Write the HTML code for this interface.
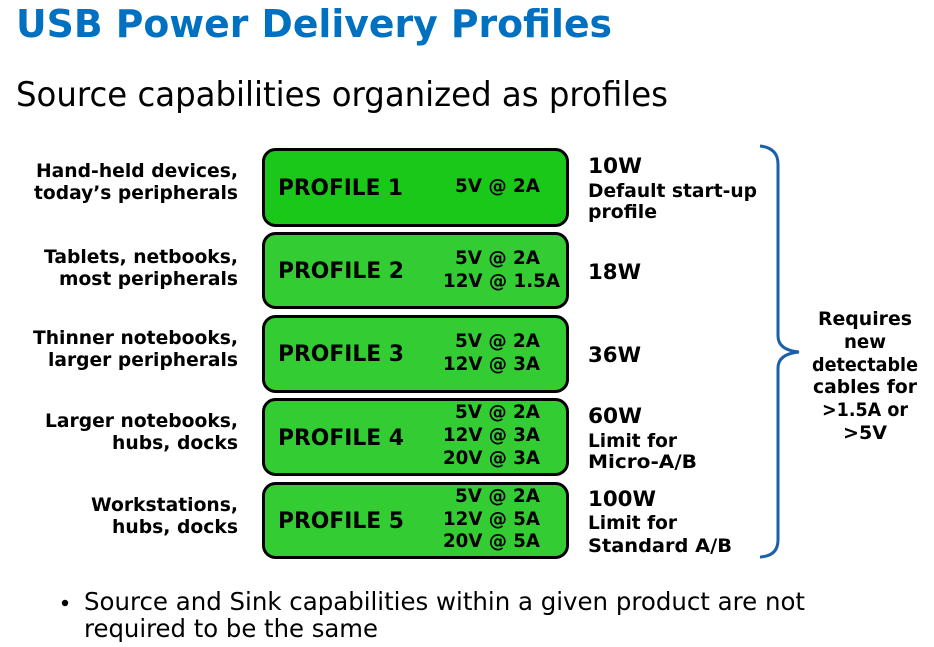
<!DOCTYPE html>
<html>
<head>
<meta charset="utf-8">
<style>
html,body{margin:0;padding:0;background:#fff;}
svg{display:block;}
text{font-family:"DejaVu Sans","Liberation Sans",sans-serif;}
.b{font-weight:bold;fill:#000;}
</style>
</head>
<body>
<svg width="934" height="647" viewBox="0 0 934 647" xmlns="http://www.w3.org/2000/svg">
<rect width="934" height="647" fill="#fff"/>
<!-- Title -->
<text x="16" y="37" font-size="38" font-weight="bold" fill="#0070c0" textLength="596" lengthAdjust="spacingAndGlyphs">USB Power Delivery Profiles</text>
<text x="16" y="106" font-size="34" fill="#000" textLength="652" lengthAdjust="spacingAndGlyphs">Source capabilities organized as profiles</text>

<!-- Boxes -->
<rect x="263.5" y="149.5" width="304" height="76" rx="12" fill="#1ac81a" stroke="#000" stroke-width="3"/>
<rect x="263.5" y="233.5" width="304" height="74" rx="12" fill="#33cc33" stroke="#000" stroke-width="3"/>
<rect x="263.5" y="316.5" width="304" height="75" rx="12" fill="#33cc33" stroke="#000" stroke-width="3"/>
<rect x="263.5" y="399.5" width="304" height="75" rx="12" fill="#33cc33" stroke="#000" stroke-width="3"/>
<rect x="263.5" y="483.5" width="304" height="74" rx="12" fill="#33cc33" stroke="#000" stroke-width="3"/>

<!-- Profile labels -->
<g font-size="22">
<text class="b" x="278" y="195" textLength="125" lengthAdjust="spacingAndGlyphs">PROFILE 1</text>
<text class="b" x="278" y="278" textLength="126" lengthAdjust="spacingAndGlyphs">PROFILE 2</text>
<text class="b" x="278" y="361" textLength="126" lengthAdjust="spacingAndGlyphs">PROFILE 3</text>
<text class="b" x="278" y="445" textLength="126" lengthAdjust="spacingAndGlyphs">PROFILE 4</text>
<text class="b" x="278" y="528" textLength="126" lengthAdjust="spacingAndGlyphs">PROFILE 5</text>
</g>

<!-- Voltages -->
<g font-size="19">
<text class="b" x="455" y="192" textLength="85" lengthAdjust="spacingAndGlyphs">5V @ 2A</text>
<text class="b" x="455" y="264" textLength="85" lengthAdjust="spacingAndGlyphs">5V @ 2A</text>
<text class="b" x="443" y="287" textLength="117" lengthAdjust="spacingAndGlyphs">12V @ 1.5A</text>
<text class="b" x="455" y="347" textLength="85" lengthAdjust="spacingAndGlyphs">5V @ 2A</text>
<text class="b" x="443" y="370" textLength="97" lengthAdjust="spacingAndGlyphs">12V @ 3A</text>
<text class="b" x="455" y="418" textLength="85" lengthAdjust="spacingAndGlyphs">5V @ 2A</text>
<text class="b" x="443" y="441" textLength="97" lengthAdjust="spacingAndGlyphs">12V @ 3A</text>
<text class="b" x="443" y="464" textLength="97" lengthAdjust="spacingAndGlyphs">20V @ 3A</text>
<text class="b" x="455" y="502" textLength="85" lengthAdjust="spacingAndGlyphs">5V @ 2A</text>
<text class="b" x="443" y="525" textLength="97" lengthAdjust="spacingAndGlyphs">12V @ 5A</text>
<text class="b" x="443" y="547" textLength="97" lengthAdjust="spacingAndGlyphs">20V @ 5A</text>
</g>

<!-- Left labels -->
<g font-size="19" text-anchor="end">
<text class="b" x="238" y="177" textLength="202" lengthAdjust="spacingAndGlyphs">Hand-held devices,</text>
<text class="b" x="238" y="199" textLength="204" lengthAdjust="spacingAndGlyphs">today’s peripherals</text>
<text class="b" x="238" y="263" textLength="194" lengthAdjust="spacingAndGlyphs">Tablets, netbooks,</text>
<text class="b" x="238" y="285" textLength="179" lengthAdjust="spacingAndGlyphs">most peripherals</text>
<text class="b" x="238" y="344" textLength="205" lengthAdjust="spacingAndGlyphs">Thinner notebooks,</text>
<text class="b" x="238" y="366" textLength="190" lengthAdjust="spacingAndGlyphs">larger peripherals</text>
<text class="b" x="238" y="427" textLength="193" lengthAdjust="spacingAndGlyphs">Larger notebooks,</text>
<text class="b" x="238" y="449" textLength="126" lengthAdjust="spacingAndGlyphs">hubs, docks</text>
<text class="b" x="238" y="511" textLength="147" lengthAdjust="spacingAndGlyphs">Workstations,</text>
<text class="b" x="238" y="533" textLength="126" lengthAdjust="spacingAndGlyphs">hubs, docks</text>
</g>

<!-- Right wattage labels -->
<g font-size="19">
<text class="b" x="588" y="173" font-size="21" textLength="54" lengthAdjust="spacingAndGlyphs">10W</text>
<text class="b" x="588" y="197" textLength="169" lengthAdjust="spacingAndGlyphs">Default start-up</text>
<text class="b" x="588" y="218" textLength="69" lengthAdjust="spacingAndGlyphs">profile</text>
<text class="b" x="588" y="279" font-size="21" textLength="53" lengthAdjust="spacingAndGlyphs">18W</text>
<text class="b" x="588" y="362" font-size="21" textLength="53" lengthAdjust="spacingAndGlyphs">36W</text>
<text class="b" x="588" y="423" font-size="21" textLength="54" lengthAdjust="spacingAndGlyphs">60W</text>
<text class="b" x="588" y="447" textLength="89" lengthAdjust="spacingAndGlyphs">Limit for</text>
<text class="b" x="588" y="468" textLength="109" lengthAdjust="spacingAndGlyphs">Micro-A/B</text>
<text class="b" x="588" y="506" font-size="21" textLength="68" lengthAdjust="spacingAndGlyphs">100W</text>
<text class="b" x="588" y="529" textLength="89" lengthAdjust="spacingAndGlyphs">Limit for</text>
<text class="b" x="588" y="552" textLength="144" lengthAdjust="spacingAndGlyphs">Standard A/B</text>
</g>

<!-- Brace -->
<path d="M760,146 Q778,148 778,164 L778,336 Q778,350 799,352 Q778,354 778,368 L778,540 Q778,556 760,557" fill="none" stroke="#1a5fa8" stroke-width="3"/>

<!-- Brace label -->
<g font-size="19" text-anchor="middle">
<text class="b" x="865" y="325" textLength="94" lengthAdjust="spacingAndGlyphs">Requires</text>
<text class="b" x="865" y="348" textLength="42" lengthAdjust="spacingAndGlyphs">new</text>
<text class="b" x="865" y="371" textLength="106" lengthAdjust="spacingAndGlyphs">detectable</text>
<text class="b" x="865" y="393" textLength="104" lengthAdjust="spacingAndGlyphs">cables for</text>
<text class="b" x="865" y="416" textLength="86" lengthAdjust="spacingAndGlyphs">&gt;1.5A or</text>
<text class="b" x="865" y="439" textLength="44" lengthAdjust="spacingAndGlyphs">&gt;5V</text>
</g>

<!-- Bullet -->
<circle cx="65" cy="603" r="3.2" fill="#000"/>
<text x="84" y="610" font-size="25" fill="#000" textLength="721" lengthAdjust="spacingAndGlyphs">Source and Sink capabilities within a given product are not</text>
<text x="84" y="637" font-size="25" fill="#000" textLength="294" lengthAdjust="spacingAndGlyphs">required to be the same</text>
</svg>
</body>
</html>
